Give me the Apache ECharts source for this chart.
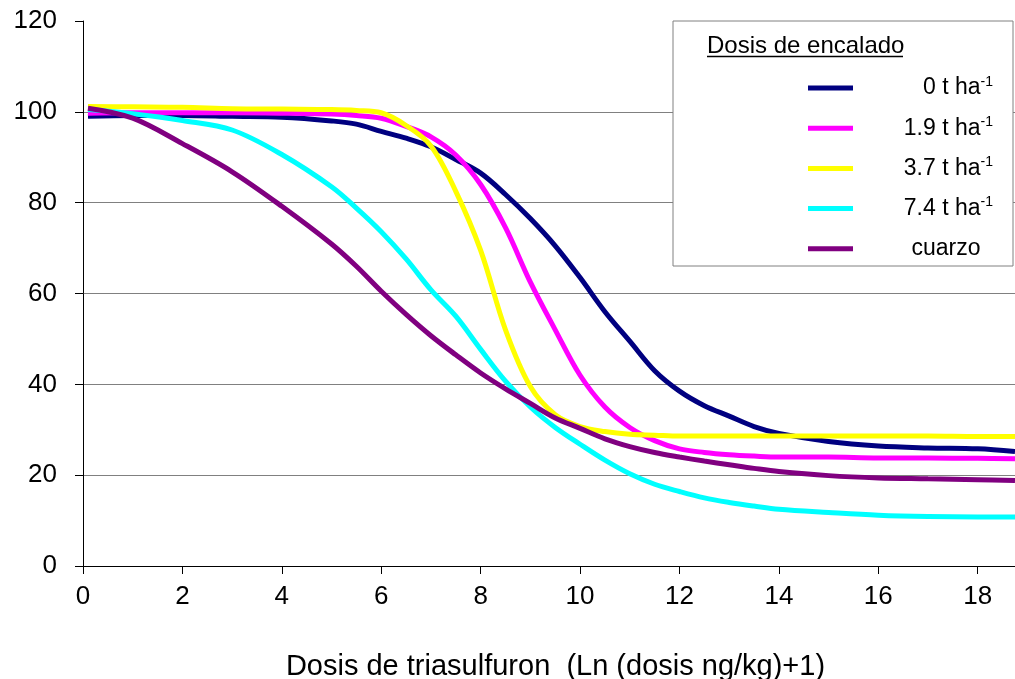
<!DOCTYPE html>
<html>
<head>
<meta charset="utf-8">
<script src="https://cdn.jsdelivr.net/npm/echarts@6/dist/echarts.min.js"></script>
<style>
html,body{margin:0;padding:0;background:#fff;}
#chart{width:1015px;height:679px;}
</style>
</head>
<body>
<div id="chart"></div>
<script>
// Shared x positions (Ln(dosis ng/kg)+1)
var xValues = [0.1, 1, 2, 3, 4, 5, 5.5, 6, 6.5, 7, 7.5, 8, 8.5, 9, 9.5, 10, 10.5, 11, 11.5, 12, 12.5, 13, 13.5, 14, 15, 16, 17, 18, 18.75];

var seriesNames = ['0 t ha', '1.9 t ha', '3.7 t ha', '7.4 t ha', 'cuarzo'];

var y0t   = [99, 99.2, 99.2, 99, 98.8, 98, 97.3, 95.7, 94.2, 92.3, 89.5, 86.5, 81.8, 76.5, 70.5, 63.5, 56, 49.5, 43, 38.5, 35.3, 33, 30.7, 29.2, 27.4, 26.4, 26, 25.8, 25.2];
var y19t  = [99.7, 99.8, 99.8, 99.8, 99.7, 99.5, 99.2, 98.6, 96.8, 94.5, 90.5, 84, 74.5, 62.5, 52, 42, 35, 30.5, 27.6, 25.8, 25, 24.5, 24.2, 24, 24, 23.8, 23.8, 23.7, 23.6];
var y37t  = [101.2, 101.1, 101, 100.7, 100.6, 100.5, 100.3, 99.8, 97, 92.5, 82.5, 69.5, 52, 39.5, 33.3, 30.7, 29.6, 29, 28.8, 28.6, 28.6, 28.6, 28.6, 28.6, 28.6, 28.6, 28.6, 28.5, 28.5];
var y74t  = [100.5, 99.6, 98.1, 96, 90.6, 83.5, 78.8, 73.6, 67.6, 60.8, 55, 47.7, 40.7, 35, 30.5, 26.8, 23.3, 20.3, 18, 16.4, 15, 14, 13.2, 12.5, 11.8, 11.2, 10.9, 10.8, 10.8];
var yCuarzo = [100.8, 98.6, 93, 86.8, 79.2, 70.9, 66, 60.5, 55.4, 50.7, 46.5, 42.5, 39, 35.8, 32.6, 30.3, 28, 26.3, 25, 24, 23.1, 22.3, 21.5, 20.8, 19.9, 19.4, 19.2, 19, 18.8];

var seriesValues = [y0t, y19t, y37t, y74t, yCuarzo];
var seriesColors = ['#000080', '#FF00FF', '#FFFF00', '#00FFFF', '#800080'];

var FONT = '"Liberation Sans", Arial, Helvetica, sans-serif';

function pairs(ys) {
  return xValues.map(function (x, i) { return [x, ys[i]]; });
}

var chart = echarts.init(document.getElementById('chart'), null, {renderer: 'canvas'});

var option = {
  backgroundColor: '#ffffff',
  animation: false,
  textStyle: {fontFamily: FONT},
  grid: {left: 83, right: 0, top: 21, bottom: 113, containLabel: false, outerBoundsMode: 'none'},
  title: {
    text: 'Dosis de encalado',
    left: 707,
    top: 34,
    padding: 0,
    z: 6,
    textStyle: {fontFamily: FONT, fontSize: 24, fontWeight: 'normal', color: '#000'}
  },
  legend: {
    orient: 'vertical',
    left: 808,
    top: 75,
    padding: 0,
    itemGap: 15.7,
    itemWidth: 45,
    itemHeight: 5,
    icon: 'rect',
    z: 4,
    data: seriesNames,
    formatter: function (name) {
      if (name === 'cuarzo') return '{b|' + name + '}{e|-1}';
      return '{b|' + name + '}{s|-1}';
    },
    textStyle: {
      width: 135,
      fontFamily: FONT,
      color: '#000',
      rich: {
        b: {fontSize: 23, lineHeight: 26, align: 'right', color: '#000', fontFamily: FONT},
        s: {fontSize: 14, lineHeight: 14, align: 'right', verticalAlign: 'top', color: '#000', fontFamily: FONT},
        e: {fontSize: 14, lineHeight: 14, align: 'right', verticalAlign: 'top', color: 'rgba(0,0,0,0)', fontFamily: FONT}
      }
    }
  },
  graphic: [
    {
      type: 'rect',
      z: 3,
      shape: {x: 673, y: 21, width: 340, height: 245},
      style: {fill: '#ffffff', stroke: '#808080', lineWidth: 1}
    },
    {
      type: 'line',
      z: 7,
      shape: {x1: 707, y1: 56.5, x2: 903, y2: 56.5},
      style: {stroke: '#000', lineWidth: 1.5}
    }
  ],
  xAxis: {
    type: 'value',
    min: 0,
    max: 18.75,
    interval: 2,
    name: 'Dosis de triasulfuron  (Ln (dosis ng/kg)+1)',
    nameLocation: 'middle',
    nameGap: 86,
    nameTextStyle: {fontFamily: FONT, fontSize: 29, color: '#000', padding: [0, 0, 0, 13]},
    axisLine: {show: true, lineStyle: {color: '#000', width: 1}},
    axisTick: {show: true, inside: false, length: 8, lineStyle: {color: '#000'}},
    axisLabel: {
      fontFamily: FONT, fontSize: 26, color: '#000', margin: 18,
      showMaxLabel: false,
      formatter: function (v) { return (Math.abs(v - Math.round(v)) < 1e-6) ? String(Math.round(v)) : ''; }
    },
    splitLine: {show: false}
  },
  yAxis: {
    type: 'value',
    min: 0,
    max: 120,
    interval: 20,
    axisLine: {show: true, lineStyle: {color: '#000', width: 1}},
    axisTick: {show: true, inside: false, length: 8, lineStyle: {color: '#000'}},
    axisLabel: {fontFamily: FONT, fontSize: 26, color: '#000', margin: 26},
    splitLine: {show: true, showMaxLine: false, lineStyle: {color: '#808080', width: 1}}
  },
  series: seriesNames.map(function (name, i) {
    return {
      name: name,
      type: 'line',
      data: pairs(seriesValues[i]),
      showSymbol: false,
      smooth: 0.35,
      z: 2,
      color: seriesColors[i],
      lineStyle: {color: seriesColors[i], width: 5},
      itemStyle: {color: seriesColors[i]}
    };
  })
};

chart.setOption(option);
</script>
</body>
</html>
